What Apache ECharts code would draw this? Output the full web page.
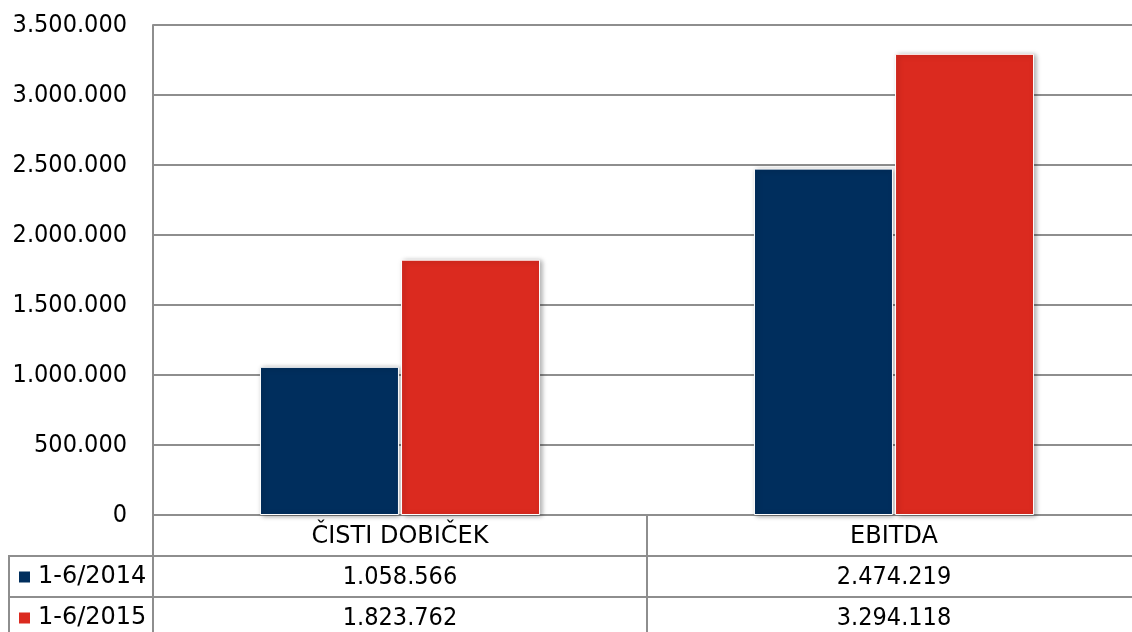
<!DOCTYPE html>
<html>
<head>
<meta charset="utf-8">
<script src="https://cdn.jsdelivr.net/npm/echarts@6/dist/echarts.min.js"></script>
<style>
html, body { margin: 0; padding: 0; background: #fff; }
#main { width: 1132px; height: 632px; }
</style>
</head>
<body>
<div id="main"></div>
<script>
// data
var categories = ['ČISTI DOBIČEK', 'EBITDA'];
var seriesNames = ['1-6/2014', '1-6/2015'];
var values2014 = [1058566, 2474219];
var values2015 = [1823762, 3294118];
var colors = ['#002e5d', '#db2a1f'];

function fmt(v) {
    return String(v).replace(/\B(?=(\d{3})+(?!\d))/g, '.');
}

var font = '"DejaVu Sans Condensed", "DejaVu Sans", sans-serif';
var wideFont = '"DejaVu Sans", sans-serif';
var fontSize = 25;
var lineColor = '#8e8e8e';

function tableAxis(data, offset, family, size, margin) {
    return {
        type: 'category',
        position: 'bottom',
        offset: offset,
        data: data,
        axisLine: { show: true, lineStyle: { color: lineColor, width: 2 } },
        axisTick: { show: true, length: 41, lineStyle: { color: lineColor, width: 2 } },
        axisLabel: { color: '#000', fontSize: size, fontFamily: family, margin: margin }
    };
}

function legendRow(name, top) {
    return {
        orient: 'vertical',
        left: 17,
        top: top,
        padding: 0,
        itemWidth: 13,
        itemHeight: 13,
        icon: 'rect',
        data: [name],
        textStyle: { color: '#000', fontSize: 24, fontFamily: wideFont, padding: [0, 0, 0, 2] }
    };
}

function main() {
    var myChart = echarts.init(document.getElementById('main'));
    var barStyle = function (c) {
        return {
            color: c,
            borderColor: '#ffffff',
            borderWidth: 1,
            shadowBlur: 5,
            shadowOffsetX: 2,
            shadowOffsetY: 1,
            shadowColor: 'rgba(0,0,0,0.35)'
        };
    };
    var option = {
        animation: false,
        textStyle: { fontFamily: font },
        grid: { left: 153, top: 25, bottom: 117, width: 988, containLabel: false, outerBoundsMode: 'none' },
        legend: [
            legendRow(seriesNames[0], 565),
            legendRow(seriesNames[1], 606)
        ],
        xAxis: [
            tableAxis(categories, 0, wideFont, 24, 10),
            tableAxis(values2014.map(fmt), 41, font, fontSize, 9),
            tableAxis(values2015.map(fmt), 82, font, fontSize, 9)
        ],
        yAxis: {
            type: 'value',
            min: 0,
            max: 3500000,
            interval: 500000,
            axisLine: { show: true, lineStyle: { color: lineColor, width: 2 } },
            axisTick: { show: false },
            splitLine: { lineStyle: { color: lineColor, width: 2 } },
            axisLabel: { color: '#000', fontSize: fontSize, fontFamily: font, margin: 26, formatter: fmt }
        },
        series: [
            {
                name: seriesNames[0],
                type: 'bar',
                xAxisIndex: 0,
                data: values2014,
                barWidth: 139,
                barGap: '1.5%',
                itemStyle: barStyle(colors[0])
            },
            {
                name: seriesNames[1],
                type: 'bar',
                xAxisIndex: 0,
                data: values2015,
                barWidth: 139,
                barGap: '1.5%',
                itemStyle: barStyle(colors[1])
            }
        ],
        graphic: [
            { type: 'line', shape: { x1: 9, y1: 556, x2: 153, y2: 556 }, style: { stroke: lineColor, lineWidth: 2 } },
            { type: 'line', shape: { x1: 9, y1: 597, x2: 153, y2: 597 }, style: { stroke: lineColor, lineWidth: 2 } },
            { type: 'line', shape: { x1: 9, y1: 555, x2: 9, y2: 640 }, style: { stroke: lineColor, lineWidth: 2 } }
        ]
    };
    myChart.setOption(option);
}
main();
</script>
</body>
</html>
